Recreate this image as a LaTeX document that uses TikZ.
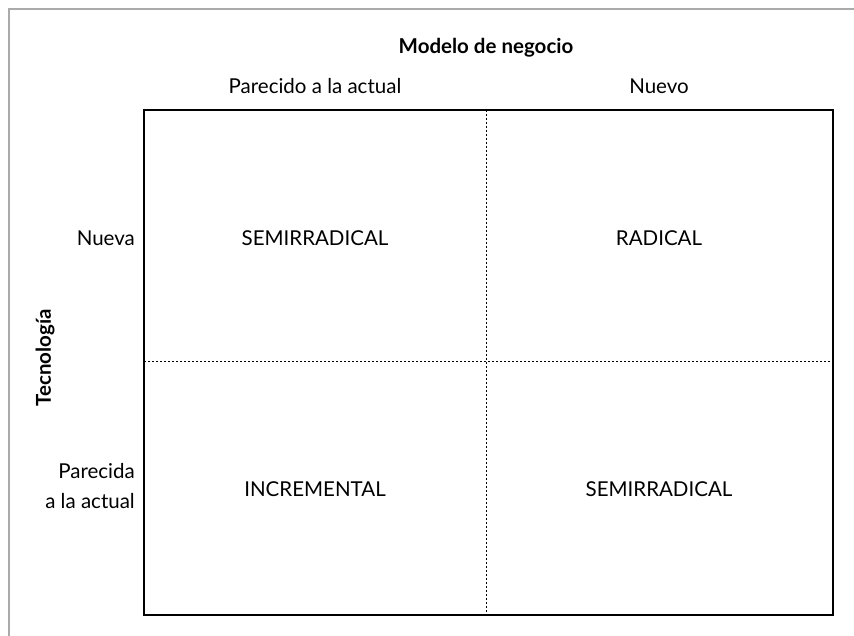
\documentclass[tikz,border=0pt]{standalone}
\usepackage{fontspec}
\setmainfont{Lato}
\usepackage{tikz}
\usetikzlibrary{positioning, calc}
\definecolor{framegray}{HTML}{AAAAAA}
\tikzset{
  axislbl/.style = {font=\fontsize{20.5}{24}\selectfont\bfseries, inner sep=1pt},
  collbl/.style  = {font=\fontsize{20.5}{24}\selectfont, inner sep=1pt},
  rowlbl/.style  = {font=\fontsize{20.5}{30}\selectfont, align=right, anchor=east,
                    inner sep=1pt},
  quadlbl/.style = {font=\fontsize{20.5}{24}\selectfont, inner sep=1pt},
  grid/.style    = {line width=0.6pt, dash pattern=on 2pt off 2pt},
}

\begin{document}
\begin{tikzpicture}[x=1pt, y=-1pt]
    \useasboundingbox (0,0) rectangle (854,636);
    % outer frame (top and left only)
    \draw[framegray, line width=1.6pt] (9,636) -- (9,9) -- (854,9);

    % corners of the matrix
    \coordinate (tl) at (144,110);
    \coordinate (br) at (833,615);
    \coordinate (tm) at (486,110);
    \coordinate (bm) at (486,615);
    \coordinate (ml) at (144,361);
    \coordinate (mr) at (833,361);
    \draw[line width=1.1pt] (tl) rectangle (br);
    \draw[grid] (tm) -- (bm);
    \draw[grid] (ml) -- (mr);

    % column headers
    \node[axislbl] (modelo) at (486,48) {Modelo de negocio};
    \node[collbl]  (colact) at (315,86) {Parecido a la actual};
    \node[collbl]  (colnew) at (659,86) {Nuevo};

    % row headers
    \node[axislbl, rotate=90] (tecno) at (45,358) {Tecnología};
    \node[rowlbl] (rownew) at (136,238) {Nueva};
    \node[rowlbl] (rowact) at (136,486) {Parecida\\a la actual};

    % quadrants
    \node[quadlbl] (q1) at (315,238) {SEMIRRADICAL};
    \node[quadlbl] (q2) at (659,238) {RADICAL};
    \node[quadlbl] (q3) at (315,489) {INCREMENTAL};
    \node[quadlbl] (q4) at (659,489) {SEMIRRADICAL};
\end{tikzpicture}
\end{document}
